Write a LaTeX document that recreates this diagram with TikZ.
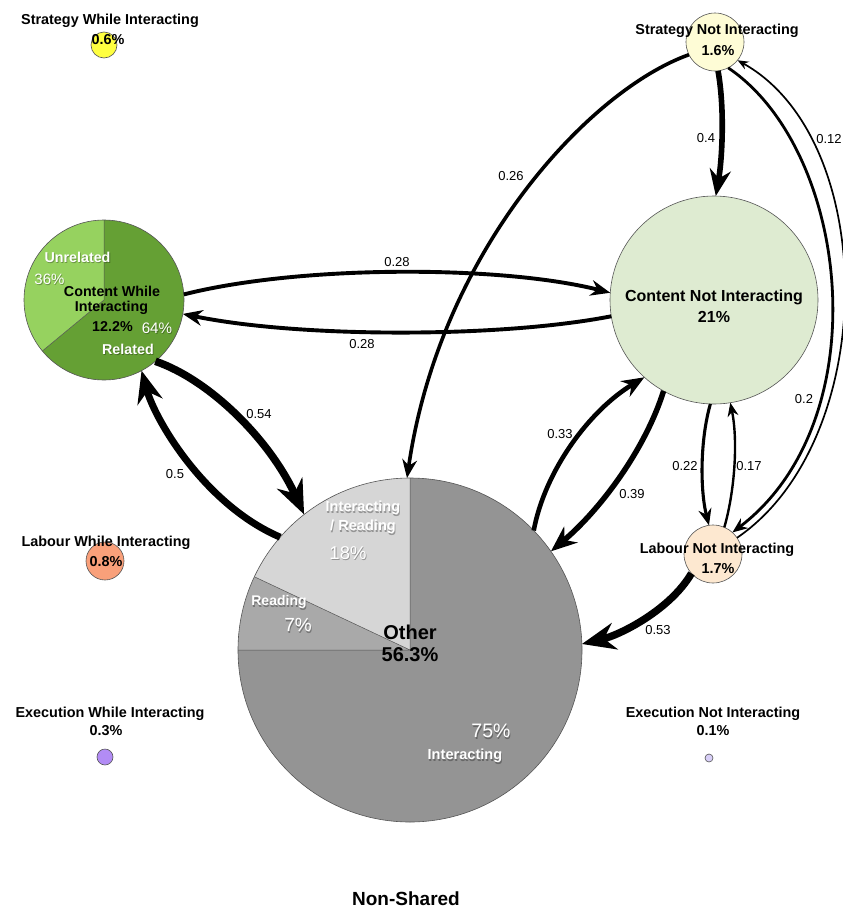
\documentclass[tikz,border=0pt]{standalone}
\usepackage{fontspec}
\setmainfont{Liberation Sans}
\usetikzlibrary{arrows.meta}
\definecolor{swiC}{HTML}{FFFF40}
\definecolor{snotC}{HTML}{FEFCD6}
\definecolor{relC}{HTML}{65A034}
\definecolor{unrC}{HTML}{96D25F}
\definecolor{cnotC}{HTML}{DEEBD1}
\definecolor{irC}{HTML}{D6D6D6}
\definecolor{rdC}{HTML}{A9A9A9}
\definecolor{itC}{HTML}{949494}
\definecolor{lnotC}{HTML}{FDE8D0}
\definecolor{lwiC}{HTML}{F9A07A}
\definecolor{ewiC}{HTML}{B28CF5}
\definecolor{enotC}{HTML}{D8CFF8}
\definecolor{edgeC}{HTML}{555555}
\newcommand\wtext[5]{%
  \node[text=black, opacity=0.3, font=#4, align=center] (#1s) at ({#2+0.8},{#3-1.6}) {#5};
  \node[text=white, font=#4, align=center] (#1) at (#2,#3) {#5};}
\begin{document}
\begin{tikzpicture}[x=1pt,y=1pt,
  every node/.style={inner sep=0pt, outer sep=0pt},
  bub/.style={circle, draw=edgeC, line width=0.6pt, inner sep=0pt, outer sep=0pt},
  lab/.style={font=\fontsize{14.4}{17}\selectfont\bfseries, align=center},
  elab/.style={font=\fontsize{13}{15}\selectfont},
  arr/.style={-{Stealth[length=4pt 4, width'=0pt 0.8]}, line width=#1},
  pieline/.style={draw=edgeC, line width=0.5pt}
]
\useasboundingbox (0,0) rectangle (843,-913);
\fill[white] (0,0) rectangle (843,-913);

% ---- Content While Interacting pie
\fill[unrC] (104,-300) -- ++(90:80) arc[start angle=90, end angle=219.6, radius=80] -- cycle;
\fill[relC] (104,-300) -- ++(219.6:80) arc[start angle=219.6, end angle=450, radius=80] -- cycle;
\draw[pieline] (104,-300) -- ++(90:80) (104,-300) -- ++(219.6:80);
\node[bub, minimum size=160pt] (cwi) at (104,-300) {};

% ---- Other pie
\fill[irC] (410,-650) -- ++(90:172) arc[start angle=90, end angle=154.8, radius=172] -- cycle;
\fill[rdC] (410,-650) -- ++(154.8:172) arc[start angle=154.8, end angle=180, radius=172] -- cycle;
\fill[itC] (410,-650) -- ++(180:172) arc[start angle=180, end angle=450, radius=172] -- cycle;
\draw[pieline] (410,-650) -- ++(90:172) (410,-650) -- ++(154.8:172) (410,-650) -- ++(180:172);
\node[bub, minimum size=344pt] (oth) at (410,-650) {};

% ---- other bubbles
\node[bub, fill=snotC, minimum size=58pt] (snot) at (715,-42) {};
\node[bub, fill=cnotC, minimum size=208pt] (cnot) at (714,-300) {};
\node[bub, fill=lnotC, minimum size=58pt] (lnot) at (713,-554) {};
\node[bub, fill=swiC, minimum size=26pt] (swi) at (104,-45) {};
\node[bub, fill=lwiC, minimum size=38pt] (lwi) at (105,-561) {};
\node[bub, fill=ewiC, minimum size=16pt] (ewi) at (105,-757) {};
\node[bub, fill=enotC, minimum size=8pt] (enot) at (709,-758) {};

% ---- connectors
\draw[arr=3.6] (snot.206) .. controls (590,-90) and (440,-250) .. (oth.91);
\draw[arr=5.6] (snot.276) .. controls (725,-110) and (722,-160) .. (cnot.89);
\draw[arr=2.8] (snot.297) .. controls (850,-150) and (880,-420) .. (lnot.48);
\draw[arr=1.7] (lnot.34) .. controls (880,-440) and (880,-140) .. (snot.321);
\draw[arr=3.9] (cwi.4) .. controls (300,-265) and (500,-265) .. (cnot.176);
\draw[arr=3.9] (cnot.189) .. controls (500,-338) and (300,-338) .. (cwi.350);
\draw[arr=7.6] (cwi.310) .. controls (210,-380) and (270,-440) .. (oth.128);
\draw[arr=7] (oth.139) .. controls (205,-505) and (155,-420) .. (cwi.298);
\draw[arr=4.6] (oth.44) .. controls (545,-470) and (590,-410) .. (cnot.228);
\draw[arr=5.5] (cnot.241) .. controls (645,-450) and (600,-510) .. (oth.35);
\draw[arr=3.1] (cnot.268) .. controls (700,-440) and (700,-490) .. (lnot.98);
\draw[arr=2.4] (lnot.67) .. controls (735,-490) and (738,-440) .. (cnot.279);
\draw[arr=7.4] (lnot.222) .. controls (670,-610) and (620,-635) .. (oth.2);

% ---- connector labels
\node[elab] (l1) at (511,-176) {0.26};
\node[elab] (l2) at (706,-138) {0.4};
\node[elab] (l3) at (829,-139) {0.12};
\node[elab] (l4) at (397,-262) {0.28};
\node[elab] (l5) at (362,-344) {0.28};
\node[elab] (l6) at (259,-414) {0.54};
\node[elab] (l7) at (175,-474) {0.5};
\node[elab] (l8) at (560,-434) {0.33};
\node[elab] (l9) at (632,-494) {0.39};
\node[elab] (l10) at (685,-466) {0.22};
\node[elab] (l11) at (749,-466) {0.17};
\node[elab] (l12) at (804,-399) {0.2};
\node[elab] (l13) at (658,-630) {0.53};

% ---- node texts
\node[lab] (tswi) at (110,-21) {Strategy While Interacting};
\node[lab] (tswip) at (108,-40) {0.6\%};
\node[lab] (tsnot) at (717,-31) {Strategy Not Interacting};
\node[lab] (tsnotp) at (718,-51) {1.6\%};
\node[lab, font=\fontsize{14.3}{17}\selectfont\bfseries] (tcwi1) at (112,-291) {Content While};
\node[lab, font=\fontsize{14.3}{17}\selectfont\bfseries] (tcwi2) at (111.5,-308) {Interacting};
\node[lab, font=\fontsize{14.3}{17}\selectfont\bfseries] (tcwi3) at (112.5,-327) {12.2\%};
\wtext{tunr}{77.5}{-257}{\fontsize{14.3}{17}\selectfont\bfseries}{Unrelated}
\wtext{tunrp}{49.5}{-279}{\fontsize{15}{18}\selectfont}{36\%}
\wtext{trelp}{157}{-328}{\fontsize{15.2}{18}\selectfont}{64\%}
\wtext{trel}{128}{-349}{\fontsize{14.3}{17}\selectfont\bfseries}{Related}
\node[lab, font=\fontsize{16}{19}\selectfont\bfseries] (tcnot) at (714,-297) {Content Not Interacting};
\node[lab, font=\fontsize{16}{19}\selectfont\bfseries] (tcnotp) at (714,-317) {21\%};
\wtext{tir}{363}{-517.5}{\fontsize{14.6}{19}\selectfont\bfseries}{Interacting\\/ Reading}
\wtext{tirp}{348}{-553}{\fontsize{18.5}{21}\selectfont}{18\%}
\wtext{trd}{279}{-602}{\fontsize{14}{17}\selectfont\bfseries}{Reading}
\wtext{trdp}{298}{-625}{\fontsize{19}{22}\selectfont}{7\%}
\node[lab, font=\fontsize{20}{23}\selectfont\bfseries] (toth) at (410,-632) {Other};
\node[lab, font=\fontsize{20}{23}\selectfont\bfseries] (tothp) at (410,-655) {56.3\%};
\wtext{titp}{491}{-731}{\fontsize{19.5}{23}\selectfont}{75\%}
\wtext{tit}{465}{-756}{\fontsize{14.6}{17}\selectfont\bfseries}{Interacting}
\node[lab] (tlnot) at (717,-550) {Labour Not Interacting};
\node[lab] (tlnotp) at (718,-569) {1.7\%};
\node[lab] (tlwi) at (106,-543) {Labour While Interacting};
\node[lab] (tlwip) at (106,-562) {0.8\%};
\node[lab] (tewi) at (110,-714) {Execution While Interacting};
\node[lab] (tewip) at (106,-731) {0.3\%};
\node[lab] (tenot) at (713,-714) {Execution Not Interacting};
\node[lab] (tenotp) at (713,-731) {0.1\%};
\node[lab, font=\fontsize{19}{22}\selectfont\bfseries] (title) at (406,-899) {Non-Shared};
\end{tikzpicture}
\end{document}
